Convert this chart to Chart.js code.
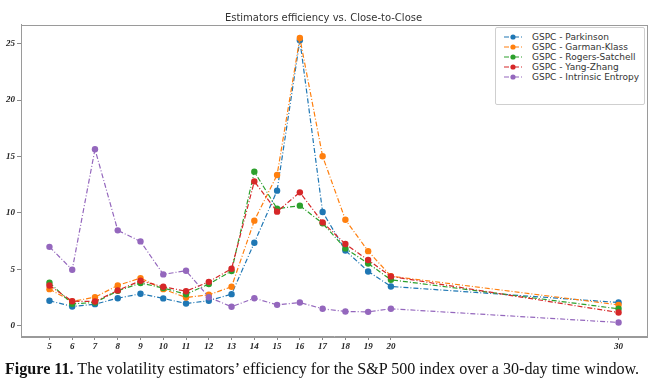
<!DOCTYPE html>
<html>
<head>
<meta charset="utf-8">
<script src="https://cdn.jsdelivr.net/npm/chart.js@4.4.1/dist/chart.umd.min.js"></script>
<style>
  html, body { margin: 0; padding: 0; background: #fff; }
  #wrap { position: relative; width: 662px; height: 386px; overflow: hidden; }
  #c { position: absolute; left: 0; top: 0; }
  #legend { position: absolute; left: 495px; top: 27px; width: 150px; height: 78px;
            border: 1px solid #cfcfcf; border-radius: 2px; background: #fff; box-sizing: border-box; }
  .row { position: absolute; left: 0; height: 10px; width: 148px; }
  .row svg { position: absolute; left: 7px; top: 0; }
  .row span { position: absolute; left: 36px; top: -1px; font: 9px "DejaVu Sans", sans-serif; color: #333; white-space: nowrap; line-height: 12px; }
  #caption { position: absolute; left: 5px; top: 360px; font: 16.1px "Liberation Serif", serif; color: #111; white-space: nowrap; }
  #caption b { font-weight: bold; }
</style>
</head>
<body>
<div id="wrap">
  <canvas id="c" width="662" height="386"></canvas>
  <div id="legend"></div>
  <div id="caption"><b>Figure 11.</b> The volatility estimators’ efficiency for the S&amp;P 500 index over a 30-day time window.</div>
</div>
<script>
const windows = [5, 6, 7, 8, 9, 10, 11, 12, 13, 14, 15, 16, 17, 18, 19, 20, 30];
const parkinson = [2.22, 1.72, 1.92, 2.45, 2.84, 2.43, 1.98, 2.22, 2.81, 7.36, 11.98, 25.3, 10.09, 6.68, 4.82, 3.49, 2.07];
const garmanKlass = [3.25, 2.16, 2.54, 3.58, 4.23, 3.25, 2.51, 2.75, 3.46, 9.32, 13.37, 25.5, 15.02, 9.4, 6.62, 4.4, 1.86];
const rogersSatchell = [3.82, 1.95, 2.07, 3.1, 3.79, 3.35, 2.8, 3.7, 4.85, 13.66, 10.38, 10.65, 9.08, 6.86, 5.53, 4.08, 1.51];
const yangZhang = [3.58, 2.18, 2.16, 3.14, 4.0, 3.46, 3.07, 3.9, 5.06, 12.8, 10.12, 11.83, 9.17, 7.25, 5.83, 4.38, 1.18];
const intrinsicEntropy = [7.0, 4.97, 15.65, 8.46, 7.48, 4.56, 4.88, 2.54, 1.69, 2.45, 1.86, 2.07, 1.51, 1.27, 1.24, 1.51, 0.3];
const xTicks = [5, 6, 7, 8, 9, 10, 11, 12, 13, 14, 15, 16, 17, 18, 19, 20, 30];
const yTicks = [0, 5, 10, 15, 20, 25];
const seriesNames = ["GSPC - Parkinson", "GSPC - Garman-Klass", "GSPC - Rogers-Satchell", "GSPC - Yang-Zhang", "GSPC - Intrinsic Entropy"];
const seriesValues = [parkinson, garmanKlass, rogersSatchell, yangZhang, intrinsicEntropy];
const colors = ["#1f77b4", "#ff7f0e", "#2ca02c", "#d62728", "#9467bd"];
const DASH = [5, 2, 1, 2];

const datasets = seriesValues.map((vals, i) => ({
  label: seriesNames[i],
  data: vals.map((v, j) => ({ x: windows[j], y: v })),
  borderColor: colors[i],
  backgroundColor: colors[i],
  borderWidth: 1.2,
  borderDash: DASH,
  pointRadius: 3.2,
  pointBorderWidth: 0,
  pointHoverRadius: 3.2,
  tension: 0,
  fill: false,
  order: seriesValues.length - i
}));

const frame = {
  id: 'frame',
  afterDraw(chart) {
    const a = chart.chartArea, ctx = chart.ctx;
    ctx.save();
    ctx.strokeStyle = '#9a9a9a';
    ctx.lineWidth = 1;
    ctx.strokeRect(Math.round(a.left) + 0.5, Math.round(a.top) + 0.5, Math.round(a.right - a.left), Math.round(a.bottom - a.top));
    ctx.restore();
  }
};

const tickFont = { family: '"Liberation Serif", serif', size: 9, weight: 'bold', style: 'italic' };

new Chart(document.getElementById('c'), {
  type: 'line',
  data: { datasets },
  options: {
    responsive: false,
    animation: false,
    events: [],
    layout: { padding: { left: 0, right: 15, top: 0, bottom: 0 } },
    plugins: {
      legend: { display: false },
      tooltip: { enabled: false },
      title: {
        display: true,
        text: 'Estimators efficiency vs. Close-to-Close',
        color: '#333',
        font: { family: '"DejaVu Sans", sans-serif', size: 10, weight: 'normal', lineHeight: 1.2 },
        padding: { top: 12.5, bottom: 0 }
      }
    },
    scales: {
      x: {
        type: 'linear',
        min: 3.75,
        max: 31.25,
        afterBuildTicks: s => { s.ticks = xTicks.map(v => ({ value: v })); },
        afterFit: s => { s.height = 50; },
        ticks: { font: tickFont, color: '#222', padding: 1, maxRotation: 0, autoSkip: false },
        grid: { display: true, drawOnChartArea: false, drawTicks: true, tickLength: 4, color: '#888' },
        border: { display: true, color: '#9a9a9a' }
      },
      y: {
        type: 'linear',
        min: -0.9,
        max: 26.7,
        afterBuildTicks: s => { s.ticks = yTicks.map(v => ({ value: v })); },
        afterFit: s => { s.width = 21; },
        ticks: { font: tickFont, color: '#222', padding: 2 },
        grid: { display: true, drawOnChartArea: false, drawTicks: true, tickLength: 4, color: '#888' },
        border: { display: true, color: '#9a9a9a' }
      }
    }
  },
  plugins: [frame]
});

// legend (HTML, built from the series names/colours)
const lg = document.getElementById('legend');
seriesNames.forEach((name, i) => {
  const row = document.createElement('div');
  row.className = 'row';
  row.style.top = (4 + i * 10) + 'px';
  row.innerHTML = '<svg width="20" height="10"><line x1="1" y1="5" x2="19" y2="5" stroke="' + colors[i] +
    '" stroke-width="1.1" stroke-dasharray="5 2 1 2"/><circle cx="10" cy="5" r="2.6" fill="' + colors[i] + '"/></svg>' +
    '<span></span>';
  row.querySelector('span').textContent = name;
  lg.appendChild(row);
});
</script>
</body>
</html>
